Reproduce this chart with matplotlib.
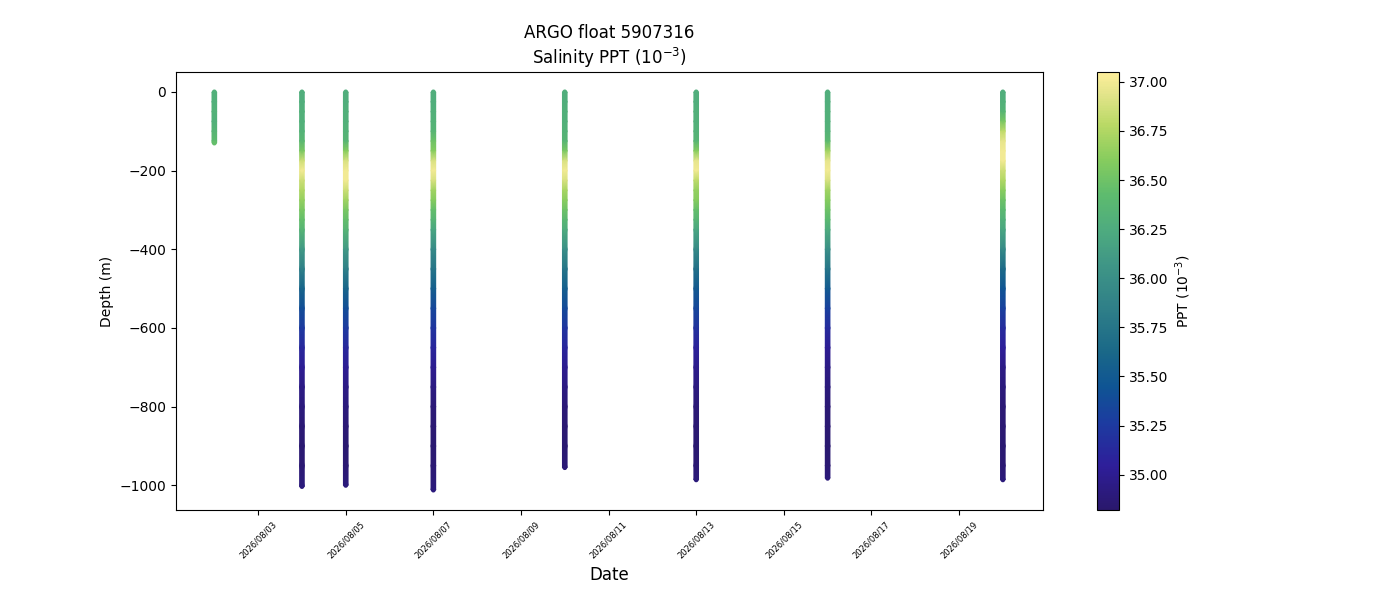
import matplotlib
matplotlib.use('Agg')
import matplotlib.pyplot as plt
import matplotlib.dates as mdates
from matplotlib.colors import LinearSegmentedColormap, Normalize
import numpy as np
from datetime import datetime

# profile dates (August 2026)
profile_days = [2, 4, 5, 7, 10, 13, 16, 20]

# depth levels (m) and salinity of each profile
depth_aug02 = [0, 25, 50, 75, 100, 125, 130]
sal_aug02 = [36.30, 36.30, 36.32, 36.30, 36.35, 36.42, 36.45]

depth_aug04 = [0, 25, 50, 75, 100, 125, 150, 175, 200, 225, 250, 275, 300, 325, 350, 400,
               450, 500, 550, 600, 650, 700, 750, 800, 850, 900, 950, 1003]
sal_aug04 = [36.28, 36.28, 36.30, 36.30, 36.32, 36.38, 36.55, 36.85, 37.00, 36.85, 36.75, 36.65,
             36.55, 36.45, 36.35, 36.10, 35.85, 35.60, 35.40, 35.25, 35.12, 35.02, 34.95, 34.90,
             34.87, 34.85, 34.86, 34.90]

depth_aug05 = [0, 25, 50, 75, 100, 125, 150, 175, 200, 225, 250, 275, 300, 325, 350, 400,
               450, 500, 550, 600, 650, 700, 750, 800, 850, 900, 950, 1000]
sal_aug05 = [36.28, 36.28, 36.30, 36.30, 36.32, 36.35, 36.60, 36.90, 37.00, 37.00, 36.85, 36.70,
             36.55, 36.45, 36.35, 36.10, 35.85, 35.60, 35.40, 35.25, 35.12, 35.02, 34.95, 34.90,
             34.87, 34.85, 34.86, 34.90]

depth_aug07 = [0, 25, 50, 75, 100, 125, 150, 175, 200, 225, 250, 275, 300, 325, 350, 400,
               450, 500, 550, 600, 650, 700, 750, 800, 850, 900, 950, 1012]
sal_aug07 = [36.28, 36.28, 36.30, 36.32, 36.35, 36.50, 36.60, 36.90, 37.00, 36.90, 36.70, 36.60,
             36.45, 36.35, 36.20, 35.95, 35.75, 35.55, 35.35, 35.22, 35.10, 35.00, 34.93, 34.88,
             34.86, 34.85, 34.86, 34.90]

depth_aug10 = [0, 25, 50, 75, 100, 125, 150, 175, 200, 225, 250, 275, 300, 325, 350, 400,
               450, 500, 550, 600, 650, 700, 750, 800, 850, 900, 955]
sal_aug10 = [36.28, 36.28, 36.30, 36.30, 36.32, 36.35, 36.55, 36.90, 37.00, 36.90, 36.72, 36.62,
             36.50, 36.38, 36.25, 36.00, 35.75, 35.55, 35.37, 35.22, 35.10, 35.00, 34.93, 34.88,
             34.86, 34.85, 34.88]

depth_aug13 = [0, 25, 50, 75, 100, 125, 150, 175, 200, 225, 250, 275, 300, 325, 350, 400,
               450, 500, 550, 600, 650, 700, 750, 800, 850, 900, 950, 986]
sal_aug13 = [36.28, 36.28, 36.30, 36.30, 36.32, 36.36, 36.60, 36.95, 37.00, 36.80, 36.65, 36.60,
             36.45, 36.35, 36.20, 35.95, 35.70, 35.50, 35.35, 35.20, 35.08, 34.98, 34.92, 34.88,
             34.86, 34.85, 34.86, 34.89]

depth_aug16 = [0, 25, 50, 75, 100, 125, 150, 175, 200, 225, 250, 275, 300, 325, 350, 400,
               450, 500, 550, 600, 650, 700, 750, 800, 850, 900, 950, 982]
sal_aug16 = [36.28, 36.28, 36.30, 36.30, 36.32, 36.40, 36.70, 36.95, 37.00, 36.90, 36.70, 36.60,
             36.50, 36.40, 36.25, 36.00, 35.75, 35.50, 35.30, 35.15, 35.02, 34.95, 34.90, 34.87,
             34.86, 34.85, 34.86, 34.89]

depth_aug20 = [0, 25, 50, 75, 100, 125, 150, 175, 200, 225, 250, 275, 300, 325, 350, 400,
               450, 500, 550, 600, 650, 700, 750, 800, 850, 900, 950, 986]
sal_aug20 = [36.28, 36.30, 36.35, 36.55, 36.80, 36.95, 37.00, 37.00, 36.85, 36.75, 36.62, 36.50,
             36.40, 36.30, 36.20, 35.95, 35.65, 35.45, 35.30, 35.15, 35.05, 34.95, 34.90, 34.87,
             34.86, 34.85, 34.86, 34.89]

depths = [depth_aug02, depth_aug04, depth_aug05, depth_aug07, depth_aug10, depth_aug13, depth_aug16, depth_aug20]
sals = [sal_aug02, sal_aug04, sal_aug05, sal_aug07, sal_aug10, sal_aug13, sal_aug16, sal_aug20]

tick_days = [3, 5, 7, 9, 11, 13, 15, 17, 19]
sal_min, sal_max = 34.82, 37.05

# approximation of cmocean "haline"
haline = LinearSegmentedColormap.from_list('haline', [
    (0.00, '#2a186c'), (0.10, '#2e1e9a'), (0.20, '#1c3ca0'), (0.28, '#0f5494'),
    (0.36, '#1a6888'), (0.46, '#2f7f88'), (0.56, '#3f9686'), (0.64, '#4eab7f'),
    (0.72, '#5dbb6e'), (0.80, '#86cc5e'), (0.88, '#b9d965'), (0.95, '#e2e48a'),
    (1.00, '#fdee9a')])
norm = Normalize(vmin=sal_min, vmax=sal_max)

fig = plt.figure(figsize=(14, 6), dpi=100)
ax = fig.add_axes([176/1400, 0.15, (1043-176)/1400, 0.73])

half_w = 0.053  # half width of the profile strips, in days
for day, d, s in zip(profile_days, depths, sals):
    t = mdates.date2num(datetime(2026, 8, day))
    d = -np.array(d, dtype=float)
    s = np.array(s, dtype=float)
    X = np.column_stack([np.full(len(d), t - half_w), np.full(len(d), t + half_w)])
    Y = np.column_stack([d, d])
    C = np.column_stack([s, s])
    mesh = ax.pcolormesh(X, Y, C, shading='gouraud', cmap=haline, norm=norm,
                         antialiased=False)
    # rounded ends
    ax.scatter([t, t], [d[0], d[-1]], c=[s[0], s[-1]], cmap=haline, norm=norm,
               s=12, linewidths=0, zorder=3)

ax.set_xlim(mdates.date2num(datetime(2026, 8, 1, 3)), mdates.date2num(datetime(2026, 8, 20, 22)))
ax.set_ylim(-1062.6, 50.6)
ax.set_xticks([mdates.date2num(datetime(2026, 8, d)) for d in tick_days])
ax.xaxis.set_major_formatter(mdates.DateFormatter('%Y/%m/%d'))
plt.setp(ax.get_xticklabels(), rotation=45, fontsize=6)

ax.set_title('ARGO float 5907316\nSalinity PPT ($10^{-3}$)', fontsize=12)
ax.set_xlabel('Date', fontsize=12)
ax.set_ylabel('Depth (m)')

cax = fig.add_axes([1097/1400, 0.15, 22/1400, 0.73])
cb = fig.colorbar(mesh, cax=cax)
cb.set_label('PPT ($10^{-3}$)')

plt.savefig('out.png', dpi=100)
